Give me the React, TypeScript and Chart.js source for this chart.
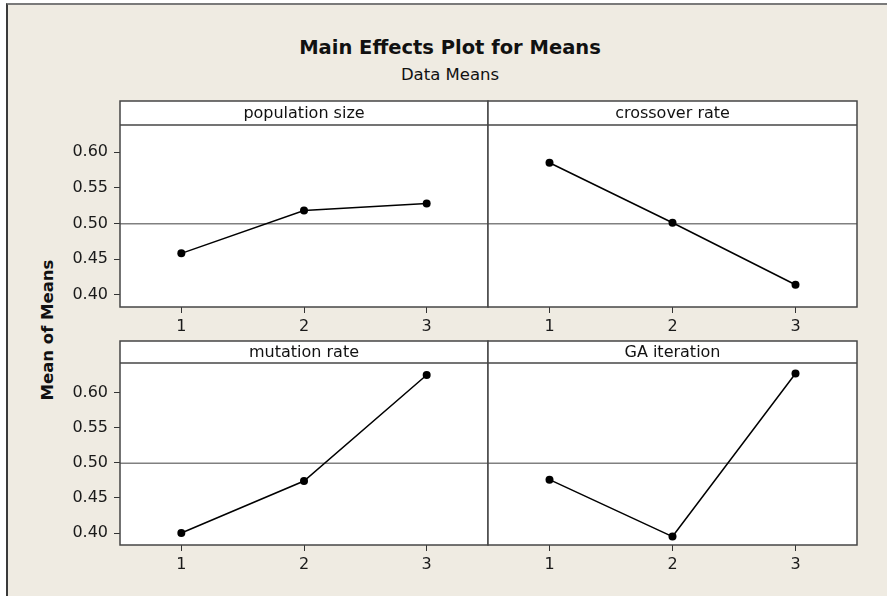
import React, { useEffect, useRef } from "react";
import { Chart, registerables } from "chart.js";

Chart.register(...registerables);

// ---- data ----
const levels = [1, 2, 3];
const factorNames = ["population size", "crossover rate", "mutation rate", "GA iteration"];
const populationSize = [0.458, 0.518, 0.528];
const crossoverRate = [0.585, 0.501, 0.414];
const mutationRate = [0.4, 0.474, 0.625];
const gaIteration = [0.476, 0.395, 0.627];
const grandMean = 0.4995;
const yTickValues = [0.4, 0.45, 0.5, 0.55, 0.6];
const xTickValues = [1, 2, 3];
const mainTitle = "Main Effects Plot for Means";
const subTitle = "Data Means";
const yAxisTitle = "Mean of Means";

const FONT = '"DejaVu Sans", Verdana, sans-serif';
const BG = "#EFEBE2";

const panelPlugin = {
  id: "panelFrame",
  beforeDraw(chart: any, _args: any, opts: any) {
    const { ctx, chartArea: a } = chart;
    const h = opts.headerHeight;
    ctx.save();
    ctx.fillStyle = "#ffffff";
    ctx.fillRect(a.left, a.top - h, a.right - a.left, a.bottom - a.top + h);
    ctx.restore();
  },
  beforeDatasetsDraw(chart: any, _args: any, opts: any) {
    const { ctx, chartArea: a } = chart;
    const y = chart.scales.y.getPixelForValue(opts.mean);
    ctx.save();
    ctx.strokeStyle = "#808080";
    ctx.lineWidth = 1.5;
    ctx.beginPath();
    ctx.moveTo(a.left, y);
    ctx.lineTo(a.right, y);
    ctx.stroke();
    ctx.restore();
  },
  afterDraw(chart: any, _args: any, opts: any) {
    const { ctx, chartArea: a } = chart;
    const h = opts.headerHeight;
    ctx.save();
    ctx.strokeStyle = "#464646";
    ctx.lineWidth = 1.5;
    ctx.strokeRect(a.left, a.top - h, a.right - a.left, a.bottom - a.top + h);
    ctx.beginPath();
    ctx.moveTo(a.left, a.top);
    ctx.lineTo(a.right, a.top);
    ctx.stroke();
    ctx.fillStyle = "#111111";
    ctx.font = `16px ${FONT}`;
    ctx.textAlign = "center";
    ctx.textBaseline = "middle";
    ctx.fillText(opts.label, (a.left + a.right) / 2, a.top - h / 2 + 1);
    ctx.restore();
  },
};

type PanelSpec = {
  label: string;
  values: number[];
  left: number;
  top: number;
  width: number;
  height: number;
  padTop: number;
  padLeft: number;
  padRight: number;
  headerHeight: number;
  showY: boolean;
  yMin: number;
  yMax: number;
};

function Panel({ spec }: { spec: PanelSpec }) {
  const ref = useRef<HTMLCanvasElement>(null);
  useEffect(() => {
    if (!ref.current) return;
    const tickFont = { family: FONT, size: 16 };
    const chart = new Chart(ref.current, {
      type: "scatter",
      data: {
        datasets: [
          {
            data: levels.map((lv, i) => ({ x: lv, y: spec.values[i] })),
            showLine: true,
            borderColor: "#000000",
            borderWidth: 1.5,
            pointRadius: 4,
            pointHoverRadius: 4,
            pointBackgroundColor: "#000000",
            pointBorderColor: "#000000",
            pointBorderWidth: 0,
            tension: 0,
          },
        ],
      },
      options: {
        responsive: false,
        animation: false,
        devicePixelRatio: 1,
        events: [],
        layout: {
          autoPadding: false,
          padding: { top: spec.padTop, left: spec.padLeft, right: spec.padRight, bottom: 0 },
        },
        plugins: {
          legend: { display: false },
          tooltip: { enabled: false },
          panelFrame: { label: spec.label, headerHeight: spec.headerHeight, mean: grandMean },
        } as any,
        scales: {
          x: {
            type: "linear",
            min: 0.5,
            max: 3.5,
            afterBuildTicks: (s: any) => {
              s.ticks = xTickValues.map((v) => ({ value: v }));
            },
            afterFit: (s: any) => {
              s.height = 38;
            },
            ticks: {
              font: tickFont,
              color: "#1a1a1a",
              padding: 4,
              autoSkip: false,
              maxRotation: 0,
              callback: (v: any) => String(v),
            },
            grid: { drawOnChartArea: false, drawTicks: true, tickLength: 6, color: "#333333", lineWidth: 1 },
            border: { display: false },
          },
          y: {
            type: "linear",
            display: spec.showY,
            min: spec.yMin,
            max: spec.yMax,
            afterBuildTicks: (s: any) => {
              s.ticks = yTickValues.map((v) => ({ value: v }));
            },
            afterFit: (s: any) => {
              s.width = spec.showY ? 120 : 0;
            },
            ticks: {
              font: tickFont,
              color: "#1a1a1a",
              padding: 6,
              autoSkip: false,
              callback: (v: any) => Number(v).toFixed(2),
            },
            grid: { drawOnChartArea: false, drawTicks: true, tickLength: 6, color: "#333333", lineWidth: 1 },
            border: { display: false },
          },
        },
      },
      plugins: [panelPlugin as any],
    } as any);
    return () => chart.destroy();
  }, [spec]);
  return (
    <canvas
      ref={ref}
      width={spec.width}
      height={spec.height}
      style={{ position: "absolute", left: spec.left, top: spec.top, width: spec.width, height: spec.height }}
    />
  );
}

const panels: PanelSpec[] = [
  { label: factorNames[0], values: populationSize, left: 0, top: 95, width: 490, height: 250, padTop: 30, padLeft: 0, padRight: 2, headerHeight: 24, showY: true, yMin: 0.3828, yMax: 0.638 },
  { label: factorNames[1], values: crossoverRate, left: 486, top: 95, width: 373, height: 250, padTop: 30, padLeft: 2, padRight: 2, headerHeight: 24, showY: false, yMin: 0.3828, yMax: 0.638 },
  { label: factorNames[2], values: mutationRate, left: 0, top: 335, width: 490, height: 248, padTop: 28, padLeft: 0, padRight: 2, headerHeight: 22, showY: true, yMin: 0.383, yMax: 0.642 },
  { label: factorNames[3], values: gaIteration, left: 486, top: 335, width: 373, height: 248, padTop: 28, padLeft: 2, padRight: 2, headerHeight: 22, showY: false, yMin: 0.383, yMax: 0.642 },
];

export default function App() {
  return (
    <div style={{ position: "fixed", left: 0, top: 0, width: 887, height: 596, background: "#ffffff", overflow: "hidden" }}>
      <div
        style={{
          position: "absolute",
          left: 6,
          top: 3,
          width: 881,
          height: 593,
          background: BG,
          borderLeft: "2px solid #3a3a3a",
          borderTop: "2px solid #7a7a7a",
          boxSizing: "border-box",
        }}
      />
      <div
        style={{
          position: "absolute",
          left: 150,
          width: 600,
          top: 36,
          lineHeight: "24px",
          textAlign: "center",
          fontFamily: FONT,
          fontWeight: "bold",
          fontSize: 19.5,
          color: "#111",
        }}
      >
        {mainTitle}
      </div>
      <div
        style={{
          position: "absolute",
          left: 150,
          width: 600,
          top: 65,
          lineHeight: "20px",
          textAlign: "center",
          fontFamily: FONT,
          fontSize: 16.5,
          color: "#111",
        }}
      >
        {subTitle}
      </div>
      <div
        style={{
          position: "absolute",
          left: 48 - 100,
          top: 330 - 11,
          width: 200,
          height: 22,
          lineHeight: "22px",
          textAlign: "center",
          fontFamily: FONT,
          fontWeight: "bold",
          fontSize: 16.5,
          color: "#111",
          transform: "rotate(-90deg)",
          transformOrigin: "50% 50%",
        }}
      >
        {yAxisTitle}
      </div>
      {panels.map((p) => (
        <Panel key={p.label} spec={p} />
      ))}
    </div>
  );
}
